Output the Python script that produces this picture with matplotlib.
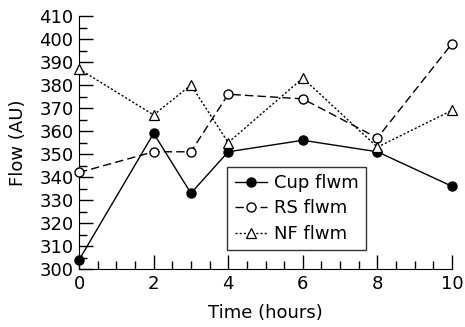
import matplotlib
matplotlib.use('Agg')
import matplotlib.pyplot as plt
from matplotlib.ticker import MultipleLocator

# Data
hours = [0, 2, 3, 4, 6, 8, 10]
cup_flwm = [304, 359, 333, 351, 356, 351, 336]
rs_flwm = [342, 351, 351, 376, 374, 357, 398]
nf_flwm = [387, 367, 380, 355, 383, 353, 369]

plt.rcParams.update({'font.size': 13, 'font.family': 'DejaVu Sans'})

fig = plt.figure(figsize=(4.65, 3.27), dpi=100)
ax = fig.add_axes([0.17, 0.177, 0.802, 0.774])

ax.plot(hours, cup_flwm, color='black', linestyle='-', linewidth=1.0,
        marker='o', markersize=6.5, markerfacecolor='black',
        label='Cup flwm', clip_on=False, zorder=3)
ax.plot(hours, rs_flwm, color='black', linestyle=(0, (6, 3)), linewidth=1.0,
        marker='o', markersize=6.5, markerfacecolor='white',
        label='RS flwm', clip_on=False, zorder=3)
ax.plot(hours, nf_flwm, color='black', linestyle=(0, (1.5, 1.5)), linewidth=1.0,
        marker='^', markersize=7, markerfacecolor='white', markeredgewidth=0.9,
        label='NF flwm', clip_on=False, zorder=3)

ax.set_xlim(0, 10)
ax.set_ylim(300, 410)
ax.xaxis.set_major_locator(MultipleLocator(2))
ax.xaxis.set_minor_locator(MultipleLocator(0.5))
ax.yaxis.set_major_locator(MultipleLocator(10))
ax.yaxis.set_minor_locator(MultipleLocator(5))
ax.tick_params(which='major', direction='in', length=10, width=1, pad=4,
               labelsize=13)
ax.tick_params(which='minor', direction='in', length=6, width=1)

ax.spines['top'].set_visible(False)
ax.spines['right'].set_visible(False)

ax.set_xlabel('Time (hours)', fontsize=13, labelpad=8)
ax.set_ylabel('Flow (AU)', fontsize=13, labelpad=9)

leg = ax.legend(loc='upper left', bbox_to_anchor=(0.398, 0.405), fontsize=13,
                frameon=True, fancybox=False, edgecolor='black',
                handlelength=1.8, borderpad=0.4, labelspacing=0.42,
                handletextpad=0.4, borderaxespad=0.0)
leg.get_frame().set_linewidth(1.0)

plt.savefig('out.png', dpi=100)
